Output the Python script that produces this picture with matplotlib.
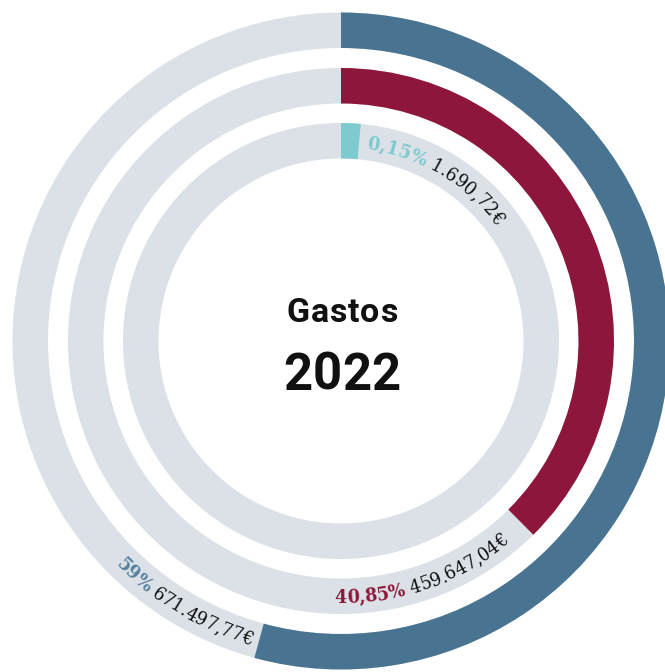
import matplotlib
matplotlib.use("Agg")
import matplotlib.pyplot as plt
from matplotlib.patches import Wedge
from matplotlib.font_manager import FontProperties
import numpy as np

# ---- data ----
ring_names = ["Ring A", "Ring B", "Ring C"]          # outer -> inner
shares_pct = [59.0, 40.85, 0.15]
percent_labels = ["59%", "40,85%", "0,15%"]
amount_labels = ["671.497,77€", "459.647,04€", "1.690,72€"]
center_title = "Gastos"
center_year = "2022"

# ---- style ----
ring_colors = ["#497491", "#8e163a", "#7dcacf"]
pct_colors = ["#55809e", "#8e163a", "#7dcacf"]
bg_color = "#dbe1e7"
outer_radii = [328.5, 273.0, 218.0]
ring_width = 35.5
deg_per_pct = 3.31
min_sweep = 5.2
cx, cy = 341.0, 672 - 341.0

W, H = 665, 672
fig = plt.figure(figsize=(W / 100, H / 100), dpi=100)
ax = fig.add_axes([0, 0, 1, 1])
ax.set_xlim(0, W)
ax.set_ylim(0, H)
ax.axis("off")

# background rings (quarter pieces) and value arcs
for r, share, col in zip(outer_radii, shares_pct, ring_colors):
    for q in range(4):
        ax.add_patch(Wedge((cx, cy), r, q * 90, (q + 1) * 90, width=ring_width,
                           facecolor=bg_color, edgecolor="none", lw=0))
    sweep = max(share * deg_per_pct, min_sweep)
    ax.add_patch(Wedge((cx, cy), r, 90 - sweep, 90, width=ring_width,
                       facecolor=col, edgecolor="none", lw=0))

renderer = fig.canvas.get_renderer()


def tw(s, fp):
    if not s:
        return 0.0
    w, h, d = renderer.get_text_width_height_descent(s, fp, ismath=False)
    return w


def tracked(x_center, y_base, s, fp, spacing, color):
    total = tw(s, fp) + spacing * (len(s) - 1)
    x0 = x_center - total / 2
    for i, ch in enumerate(s):
        xc = x0 + tw(s[:i], fp) + spacing * i + tw(ch, fp) / 2
        ax.text(xc, y_base, ch, fontproperties=fp, color=color,
                ha="center", va="baseline")


# center text
fp_title = FontProperties(family="Roboto", weight="bold", size=24.5)
fp_year = FontProperties(family="Roboto", weight="bold", size=36.5)
tracked(342, H - 322, center_title, fp_title, 0.8, "#111111")
tracked(342, H - 390, center_year, fp_year, 0.3, "#111111")

# curved labels
fs = 14
fp_b = FontProperties(family="DejaVu Serif", weight="bold", stretch="condensed", size=fs)
fp_r = FontProperties(family="DejaVu Serif", weight="normal", stretch="condensed", size=fs)


def curved(segments, r_mid, start_deg, direction):
    # direction +1: clockwise along top (tops outward); -1: along bottom (tops inward)
    cap = 0.72 * fs * 100 / 72
    r_base = r_mid - cap / 2 if direction > 0 else r_mid + cap / 2
    pos = 0.0
    for k, (s, fp, col) in enumerate(segments):
        if k > 0:
            pos += tw(" ", fp_r)
        for i, ch in enumerate(s):
            x_c = pos + tw(s[:i], fp) + tw(ch, fp) / 2
            th = np.radians(start_deg + direction * np.degrees(x_c / r_base))
            x = cx + r_base * np.sin(th)
            y = cy + r_base * np.cos(th)
            rot = -np.degrees(th) if direction > 0 else 180 - np.degrees(th)
            ax.text(x, y, ch, fontproperties=fp, color=col, rotation=rot,
                    rotation_mode="anchor", ha="center", va="baseline")
        pos += tw(s, fp)


mids = [r - ring_width / 2 for r in outer_radii]
curved([(percent_labels[2], fp_b, pct_colors[2]), (amount_labels[2], fp_r, "#111111")],
       mids[2], 7.6, +1)
curved([(percent_labels[1], fp_b, pct_colors[1]), (amount_labels[1], fp_r, "#111111")],
       mids[1], 181.4, -1)
curved([(percent_labels[0], fp_b, pct_colors[0]), (amount_labels[0], fp_r, "#111111")],
       mids[0], 225.2, -1)

fig.savefig("out.png", dpi=100)
